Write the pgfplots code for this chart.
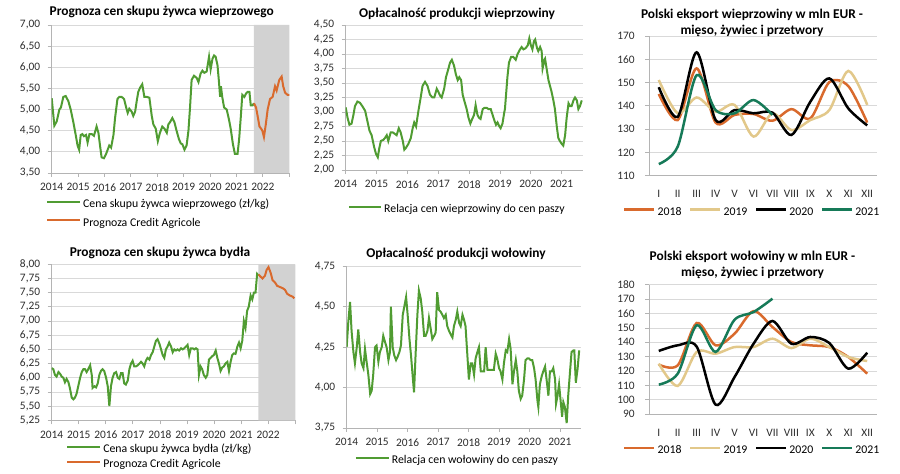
\documentclass[border=0pt]{standalone}
\usepackage{fontspec}
\setmainfont{Carlito}
\usepackage{pgfplots}
\pgfplotsset{compat=1.18}
\definecolor{cgreen}{RGB}{80,156,50}
\definecolor{corange}{RGB}{217,106,45}
\definecolor{cbeige}{RGB}{226,200,138}
\definecolor{cteal}{RGB}{22,122,88}
\definecolor{bandc}{RGB}{210,210,210}
\definecolor{gridc}{RGB}{217,217,217}
\definecolor{axisc}{RGB}{180,180,180}
\definecolor{labc}{RGB}{45,45,45}
\pgfplotsset{
  base/.style={
    scale only axis, anchor=south west,
    axis x line*=bottom, axis y line*=left,
    axis line style={axisc, line width=0.8pt},
    ymajorgrids, grid style={gridc, line width=0.8pt},
    tick align=outside, major tick length=4pt,
    xtick style={axisc, line width=0.8pt},
    ytick style={axisc, line width=0.8pt},
    tick label style={font=\fontsize{11.4}{13}\selectfont, text=labc},
    xticklabel style={yshift=-3pt},
    yticklabel style={xshift=-4pt},
    /pgf/number format/assume math mode=true,
    legend cell align=left,
    legend style={draw=none, fill=none, font=\fontsize{11.8}{14}\selectfont, inner sep=0pt,
      nodes={inner sep=2pt, text height=7.5pt, text depth=2.5pt}},
  },
  twodec/.style={yticklabel style={/pgf/number format/fixed, /pgf/number format/fixed zerofill, /pgf/number format/precision=2, /pgf/number format/use comma}},
  leglen/.style={legend image code/.code={\draw[##1] (0pt,3.2pt) -- (#1,3.2pt);}},
  mon/.style={xmin=0.5, xmax=12.5, xtick={1,...,12},
    xticklabels={I,II,III,IV,V,VI,VII,VIII,IX,X,XI,XII},
    xtick style={draw=none}, minor xtick={0.5,1.5,...,12.5},
    minor tick style={axisc, line width=0.8pt}, minor tick length=4pt,
    xticklabel style={yshift=-4pt}, yticklabel style={xshift=-3pt},
    legend columns=4, leglen=30pt,
    legend style={/tikz/every even column/.append style={column sep=5.5pt}}},
}
\begin{document}
\begin{tikzpicture}
\useasboundingbox (0,0) rectangle (900pt,474pt);
% Panel 1
\begin{axis}[base, twodec, at={(51.7pt,301pt)}, width=237.6pt, height=148pt,
  xmin=2014, xmax=2023, ymin=3.5, ymax=7, ytick={3.5,4,...,7},
  xtick={2014,...,2023}, xticklabels={2014,2015,2016,2017,2018,2019,2020,2021,2022,{}},
  leglen=33pt, legend style={at={(-0.024,-0.17)}, anchor=north west, row sep=4.3pt}]
\addplot[fill=bandc, draw=none, forget plot] coordinates {(2021.66,3.5) (2021.66,7) (2023,7) (2023,3.5)} \closedcycle;
\addplot[cgreen, line width=2pt] coordinates {
(2014.00,5.27) (2014.10,4.62) (2014.19,4.72) (2014.29,5.00) (2014.35,5.05) (2014.44,5.30) (2014.53,5.32) (2014.63,5.20) (2014.72,5.00) (2014.82,4.70) (2014.91,4.40) (2014.98,4.15) (2015.04,4.05) (2015.10,4.40) (2015.16,4.42) (2015.22,4.37) (2015.30,4.40) (2015.36,4.22) (2015.43,4.42) (2015.52,4.42) (2015.60,4.38) (2015.70,4.60) (2015.77,4.45) (2015.83,4.15) (2015.89,3.87) (2015.98,3.85) (2016.06,3.95) (2016.12,4.05) (2016.18,4.15) (2016.25,4.10) (2016.34,4.40) (2016.40,4.80) (2016.49,5.25) (2016.56,5.30) (2016.65,5.30) (2016.74,5.25) (2016.82,5.05) (2016.88,4.92) (2016.94,5.02) (2017.03,4.95) (2017.09,4.85) (2017.16,4.95) (2017.22,5.20) (2017.28,5.42) (2017.35,5.52) (2017.43,5.60) (2017.51,5.30) (2017.60,5.30) (2017.70,5.28) (2017.79,4.85) (2017.85,4.65) (2017.94,4.55) (2018.02,4.25) (2018.10,4.45) (2018.19,4.60) (2018.27,4.55) (2018.36,4.45) (2018.42,4.65) (2018.48,4.70) (2018.57,4.80) (2018.65,4.70) (2018.73,4.50) (2018.82,4.30) (2018.89,4.20) (2018.95,4.18) (2019.03,4.05) (2019.11,4.15) (2019.18,4.50) (2019.24,5.05) (2019.30,5.70) (2019.39,5.80) (2019.49,5.75) (2019.56,5.65) (2019.64,5.85) (2019.71,5.92) (2019.78,5.87) (2019.87,5.90) (2019.96,6.25) (2020.02,5.95) (2020.09,6.20) (2020.15,6.28) (2020.21,6.25) (2020.28,6.05) (2020.33,5.70) (2020.38,5.30) (2020.41,5.55) (2020.46,5.30) (2020.53,5.05) (2020.63,5.00) (2020.72,4.75) (2020.78,4.55) (2020.86,4.20) (2020.94,3.95) (2021.04,3.95) (2021.10,4.30) (2021.16,4.80) (2021.22,5.35) (2021.30,5.30) (2021.36,5.38) (2021.43,5.42) (2021.49,5.42) (2021.54,5.10) (2021.61,5.10) (2021.66,5.15)};
\addlegendentry{Cena skupu żywca wieprzowego (zł/kg)}
\addplot[corange, line width=2pt] coordinates {
(2021.66,5.15) (2021.74,5.05) (2021.80,4.85) (2021.87,4.60) (2021.93,4.55) (2021.98,4.50) (2022.04,4.35) (2022.11,4.65) (2022.18,5.00) (2022.27,5.25) (2022.37,5.30) (2022.46,5.55) (2022.52,5.45) (2022.62,5.70) (2022.71,5.78) (2022.77,5.55) (2022.84,5.40) (2022.93,5.35) (2023.00,5.35)};
\addlegendentry{Prognoza Credit Agricole}
\end{axis}
% Panel 2
\begin{axis}[base, twodec, at={(345.7pt,304pt)}, width=237pt, height=145pt,
  xmin=2014, xmax=2021.68, ymin=2, ymax=4.5, ytick={2,2.25,...,4.5},
  xtick={2014,...,2021}, xticklabels={2014,2015,2016,2017,2018,2019,2020,2021},
  leglen=32pt, legend style={at={(0.0097,-0.225)}, anchor=north west}]
\addplot[cgreen, line width=2pt] coordinates {
(2014.00,3.08) (2014.06,2.90) (2014.12,2.78) (2014.19,2.80) (2014.25,2.95) (2014.30,3.10) (2014.38,3.18) (2014.46,3.16) (2014.54,3.10) (2014.63,3.02) (2014.70,2.85) (2014.77,2.68) (2014.84,2.60) (2014.92,2.40) (2014.98,2.28) (2015.04,2.22) (2015.09,2.38) (2015.14,2.50) (2015.22,2.52) (2015.27,2.55) (2015.33,2.60) (2015.38,2.50) (2015.46,2.65) (2015.52,2.65) (2015.60,2.62) (2015.65,2.60) (2015.72,2.72) (2015.78,2.65) (2015.85,2.50) (2015.90,2.35) (2015.95,2.38) (2016.03,2.45) (2016.11,2.55) (2016.17,2.72) (2016.22,2.82) (2016.28,2.75) (2016.35,3.00) (2016.43,3.25) (2016.49,3.45) (2016.57,3.52) (2016.65,3.45) (2016.73,3.30) (2016.81,3.25) (2016.87,3.25) (2016.95,3.40) (2017.00,3.35) (2017.06,3.28) (2017.11,3.25) (2017.19,3.40) (2017.25,3.60) (2017.33,3.75) (2017.38,3.85) (2017.44,3.90) (2017.51,3.80) (2017.57,3.65) (2017.63,3.55) (2017.68,3.60) (2017.74,3.55) (2017.79,3.30) (2017.84,3.20) (2017.92,3.05) (2017.98,2.90) (2018.04,2.80) (2018.10,2.88) (2018.16,2.95) (2018.21,3.12) (2018.27,2.95) (2018.32,2.90) (2018.37,2.88) (2018.44,3.05) (2018.49,3.07) (2018.57,3.07) (2018.63,3.05) (2018.70,3.05) (2018.76,2.95) (2018.82,2.85) (2018.87,2.78) (2018.92,2.82) (2018.98,2.75) (2019.02,2.72) (2019.08,2.80) (2019.14,3.00) (2019.16,3.05) (2019.24,3.60) (2019.29,3.85) (2019.36,3.95) (2019.43,3.95) (2019.51,3.90) (2019.57,4.00) (2019.65,4.08) (2019.70,4.12) (2019.76,4.08) (2019.83,4.10) (2019.90,4.15) (2019.95,4.27) (2020.00,4.15) (2020.05,4.08) (2020.10,4.22) (2020.14,4.25) (2020.20,4.10) (2020.24,4.05) (2020.30,4.12) (2020.35,4.05) (2020.38,3.75) (2020.44,3.90) (2020.46,3.92) (2020.51,3.75) (2020.57,3.55) (2020.62,3.45) (2020.67,3.35) (2020.73,3.20) (2020.78,3.05) (2020.84,2.75) (2020.89,2.55) (2020.94,2.50) (2021.00,2.45) (2021.05,2.42) (2021.11,2.60) (2021.16,2.90) (2021.22,3.15) (2021.27,3.10) (2021.32,3.10) (2021.38,3.20) (2021.43,3.25) (2021.49,3.20) (2021.54,3.05) (2021.59,3.10) (2021.65,3.20)};
\addlegendentry{Relacja cen wieprzowiny do cen paszy}
\end{axis}
% Panel 3
\begin{axis}[base, mon, at={(649.3pt,298.3pt)}, width=227.4pt, height=139.7pt,
  ymin=110, ymax=170, ytick={110,120,...,170},
  legend style={at={(-0.116,-0.215)}, anchor=north west}]
\addplot[corange, line width=2.5pt, smooth] coordinates {(1,145.1) (2,133.9) (3,156.1) (4,132.8) (5,136.1) (6,136.5) (7,133.6) (8,138.6) (9,134.6) (10,150.2) (11,148.5) (12,132.8)};
\addlegendentry{2018}
\addplot[cbeige, line width=2.5pt, smooth] coordinates {(1,151.1) (2,136.8) (3,143.6) (4,137.5) (5,140.4) (6,126.8) (7,136.8) (8,129.6) (9,133.9) (10,138.2) (11,155.0) (12,140.4)};
\addlegendentry{2019}
\addplot[black, line width=2.5pt, smooth] coordinates {(1,148.0) (2,135.3) (3,163.0) (4,133.9) (5,138.2) (6,136.8) (7,137.1) (8,127.5) (9,141.8) (10,151.8) (11,138.9) (12,131.6)};
\addlegendentry{2020}
\addplot[cteal, line width=2.5pt, smooth] coordinates {(1,115.0) (2,122.5) (3,153.2) (4,138.2) (5,136.8) (6,142.5) (7,136.1)};
\addlegendentry{2021}
\end{axis}
% Panel 4
\begin{axis}[base, twodec, at={(51.7pt,53.7pt)}, width=243.6pt, height=156pt,
  xmin=2014, xmax=2023, ymin=5.25, ymax=8, ytick={5.25,5.5,...,8},
  xtick={2014,...,2023}, xticklabels={2014,2015,2016,2017,2018,2019,2020,2021,2022,{}},
  leglen=33pt, legend style={at={(0.059,-0.145)}, anchor=north west, row sep=1.3pt}]
\addplot[fill=bandc, draw=none, forget plot] coordinates {(2021.64,5.25) (2021.64,8) (2023,8) (2023,5.25)} \closedcycle;
\addplot[cgreen, line width=2pt] coordinates {
(2014.00,6.17) (2014.06,6.15) (2014.12,6.05) (2014.18,6.02) (2014.25,6.10) (2014.31,6.07) (2014.37,6.02) (2014.43,6.00) (2014.49,5.92) (2014.55,5.98) (2014.62,5.92) (2014.68,5.80) (2014.74,5.65) (2014.80,5.62) (2014.86,5.65) (2014.92,5.72) (2014.98,5.85) (2015.05,6.00) (2015.11,6.10) (2015.17,6.15) (2015.23,6.15) (2015.29,6.10) (2015.35,6.15) (2015.42,6.22) (2015.48,6.05) (2015.51,5.82) (2015.58,5.85) (2015.64,5.83) (2015.70,5.90) (2015.76,6.05) (2015.82,6.12) (2015.88,6.15) (2015.94,6.12) (2016.01,6.00) (2016.07,5.85) (2016.13,5.50) (2016.19,5.85) (2016.25,6.00) (2016.31,6.08) (2016.38,6.10) (2016.44,6.00) (2016.50,5.98) (2016.56,6.08) (2016.62,6.08) (2016.68,5.90) (2016.74,5.88) (2016.81,5.95) (2016.87,6.15) (2016.93,6.25) (2016.99,6.30) (2017.05,6.20) (2017.11,6.20) (2017.18,6.22) (2017.24,6.25) (2017.30,6.28) (2017.36,6.25) (2017.42,6.20) (2017.48,6.30) (2017.54,6.35) (2017.61,6.32) (2017.67,6.40) (2017.73,6.45) (2017.79,6.55) (2017.85,6.65) (2017.91,6.68) (2017.98,6.60) (2018.04,6.50) (2018.10,6.40) (2018.16,6.35) (2018.22,6.50) (2018.28,6.55) (2018.34,6.62) (2018.41,6.55) (2018.47,6.45) (2018.53,6.50) (2018.59,6.48) (2018.65,6.50) (2018.71,6.48) (2018.78,6.52) (2018.84,6.50) (2018.90,6.52) (2018.96,6.55) (2019.02,6.58) (2019.08,6.40) (2019.14,6.52) (2019.21,6.52) (2019.27,6.50) (2019.33,6.52) (2019.39,6.50) (2019.44,6.05) (2019.50,6.20) (2019.56,6.15) (2019.62,6.05) (2019.69,6.00) (2019.75,6.05) (2019.81,6.32) (2019.87,6.35) (2019.93,6.38) (2019.99,6.40) (2020.06,6.48) (2020.12,6.35) (2020.18,6.25) (2020.24,6.12) (2020.30,6.18) (2020.36,6.20) (2020.42,6.25) (2020.49,6.28) (2020.55,6.12) (2020.61,6.28) (2020.67,6.40) (2020.73,6.43) (2020.79,6.42) (2020.86,6.55) (2020.92,6.62) (2020.98,6.52) (2021.04,6.65) (2021.10,7.00) (2021.16,6.88) (2021.22,7.18) (2021.28,7.25) (2021.35,7.45) (2021.41,7.38) (2021.47,7.50) (2021.53,7.50) (2021.59,7.83) (2021.64,7.80)};
\addlegendentry{Cena skupu żywca bydła (zł/kg)}
\addplot[corange, line width=2pt] coordinates {
(2021.64,7.82) (2021.72,7.78) (2021.79,7.75) (2021.88,7.80) (2021.94,7.90) (2022.01,7.95) (2022.09,7.85) (2022.16,7.72) (2022.25,7.68) (2022.33,7.62) (2022.43,7.60) (2022.53,7.58) (2022.62,7.55) (2022.70,7.48) (2022.80,7.45) (2022.90,7.43) (2022.96,7.40)};
\addlegendentry{Prognoza Credit Agricole}
\end{axis}
% Panel 5
\begin{axis}[base, twodec, at={(346.7pt,46pt)}, width=234.3pt, height=161.7pt,
  xmin=2014, xmax=2021.69, ymin=3.75, ymax=4.75, ytick={3.75,4,4.25,4.5,4.75},
  xtick={2014,...,2021}, xticklabels={2014,2015,2016,2017,2018,2019,2020,2021},
  leglen=33pt, legend style={at={(0.034,-0.16)}, anchor=north west}]
\addplot[cgreen, line width=2pt] coordinates {
(2014.00,4.25) (2014.05,4.40) (2014.11,4.53) (2014.16,4.35) (2014.22,4.22) (2014.27,4.15) (2014.33,4.25) (2014.38,4.36) (2014.44,4.22) (2014.49,4.15) (2014.55,4.12) (2014.60,4.24) (2014.66,4.15) (2014.71,4.08) (2014.77,3.96) (2014.82,3.98) (2014.87,4.08) (2014.93,4.25) (2014.98,4.26) (2015.04,4.16) (2015.09,4.22) (2015.15,4.25) (2015.20,4.32) (2015.26,4.28) (2015.31,4.25) (2015.37,4.17) (2015.42,4.22) (2015.45,4.50) (2015.51,4.25) (2015.56,4.20) (2015.62,4.17) (2015.67,4.19) (2015.73,4.22) (2015.78,4.26) (2015.84,4.45) (2015.89,4.50) (2015.95,4.56) (2016.00,4.45) (2016.06,4.30) (2016.11,4.20) (2016.17,4.06) (2016.21,3.97) (2016.26,4.20) (2016.32,4.45) (2016.37,4.60) (2016.43,4.55) (2016.48,4.47) (2016.54,4.32) (2016.59,4.32) (2016.65,4.35) (2016.70,4.43) (2016.76,4.36) (2016.81,4.30) (2016.87,4.32) (2016.92,4.34) (2016.97,4.59) (2017.03,4.48) (2017.08,4.47) (2017.14,4.45) (2017.19,4.43) (2017.25,4.45) (2017.30,4.38) (2017.36,4.35) (2017.41,4.33) (2017.47,4.31) (2017.52,4.38) (2017.58,4.42) (2017.63,4.47) (2017.69,4.40) (2017.74,4.38) (2017.80,4.45) (2017.85,4.42) (2017.90,4.38) (2017.96,4.20) (2018.01,4.05) (2018.07,4.15) (2018.12,4.15) (2018.18,4.08) (2018.23,4.18) (2018.29,4.22) (2018.34,4.25) (2018.40,4.10) (2018.45,4.10) (2018.51,4.10) (2018.56,4.25) (2018.62,4.11) (2018.67,4.11) (2018.72,4.11) (2018.78,4.11) (2018.83,4.11) (2018.89,4.21) (2018.94,4.18) (2019.00,4.12) (2019.05,4.10) (2019.11,4.05) (2019.16,4.15) (2019.22,4.23) (2019.27,4.22) (2019.33,4.30) (2019.38,4.24) (2019.44,4.02) (2019.49,4.10) (2019.55,4.17) (2019.60,4.10) (2019.65,3.98) (2019.71,3.93) (2019.76,3.95) (2019.82,4.05) (2019.87,4.17) (2019.93,4.18) (2019.98,4.18) (2020.04,4.17) (2020.09,4.17) (2020.15,4.12) (2020.20,4.05) (2020.26,3.92) (2020.29,3.88) (2020.34,4.02) (2020.40,4.07) (2020.45,4.10) (2020.51,4.13) (2020.56,4.05) (2020.62,3.95) (2020.67,4.10) (2020.73,4.10) (2020.78,4.12) (2020.84,4.05) (2020.87,3.90) (2020.92,3.95) (2020.97,4.02) (2021.02,3.92) (2021.07,3.82) (2021.11,3.91) (2021.16,3.88) (2021.22,3.78) (2021.27,3.95) (2021.33,4.10) (2021.38,4.22) (2021.44,4.23) (2021.47,4.23) (2021.52,4.03) (2021.58,4.12) (2021.63,4.23)};
\addlegendentry{Relacja cen wołowiny do cen paszy}
\end{axis}
% Panel 6
\begin{axis}[base, mon, at={(649.3pt,59.7pt)}, width=227.4pt, height=129.6pt,
  ymin=90, ymax=180, ytick={90,100,...,180},
  legend style={at={(-0.116,-0.23)}, anchor=north west}]
\addplot[corange, line width=2.5pt, smooth] coordinates {(1,124.5) (2,124.0) (3,153.4) (4,137.9) (5,146.0) (6,161.7) (7,150.6) (8,140.2) (9,137.9) (10,136.7) (11,129.8) (12,118.2)};
\addlegendentry{2018}
\addplot[cbeige, line width=2.5pt, smooth] coordinates {(1,125.2) (2,109.7) (3,133.3) (4,132.1) (5,136.7) (6,136.7) (7,142.5) (8,136.0) (9,142.5) (10,136.7) (11,129.8) (12,127.0)};
\addlegendentry{2019}
\addplot[black, line width=2.5pt, smooth] coordinates {(1,134.0) (2,137.9) (3,137.0) (4,96.7) (5,115.9) (6,139.0) (7,154.8) (8,139.0) (9,143.7) (10,139.5) (11,121.7) (12,132.8)};
\addlegendentry{2020}
\addplot[cteal, line width=2.5pt, smooth] coordinates {(1,110.6) (2,118.2) (3,151.8) (4,133.3) (5,155.7) (6,161.0) (7,170.3)};
\addlegendentry{2021}
\end{axis}
% Titles
\begin{scope}[every node/.style={align=center, font=\fontsize{13.4}{16}\selectfont\bfseries}]
\node at (161.7pt,462pt) {Prognoza cen skupu żywca wieprzowego};
\node at (457pt,460pt) {Opłacalność produkcji wieprzowiny};
\node at (752pt,451pt) {Polski eksport wieprzowiny w mln EUR -\\mięso, żywiec i przetwory};
\node at (160pt,221pt) {Prognoza cen skupu żywca bydła};
\node at (456pt,220pt) {Opłacalność produkcji wołowiny};
\node at (752.5pt,208.7pt) {Polski eksport wołowiny w mln EUR -\\mięso, żywiec i przetwory};
\end{scope}
\end{tikzpicture}
\end{document}
